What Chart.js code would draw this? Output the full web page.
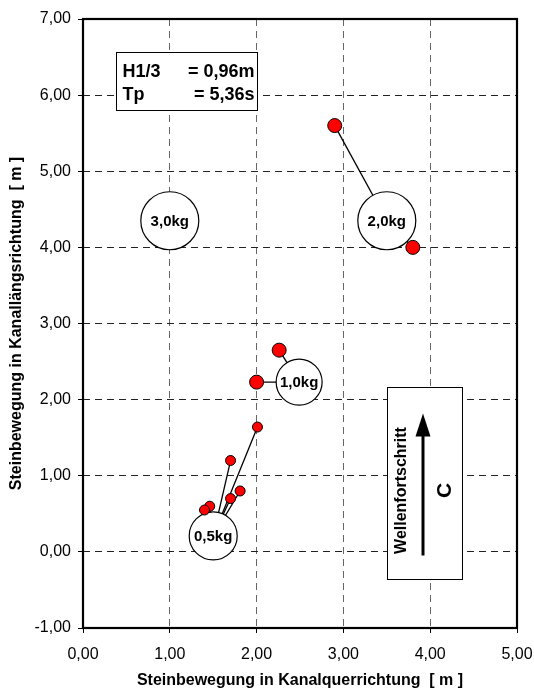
<!DOCTYPE html>
<html><head><meta charset="utf-8">
<script src="https://cdn.jsdelivr.net/npm/chart.js@4/dist/chart.umd.min.js"></script>
<style>html,body{margin:0;padding:0;background:#fff;}#wrap{width:534px;height:691px;}</style>
</head><body><div id="wrap"><canvas id="c" width="534" height="691"></canvas></div>
<script>
// ---- data ----
const stoneLabels = ['0,5kg', '1,0kg', '2,0kg', '3,0kg'];
const stoneCenterX = [1.50, 2.49, 3.50, 1.00];
const stoneCenterY = [0.21, 2.23, 4.35, 4.35];
const stone05X = [2.01, 1.70, 1.81, 1.70, 1.46, 1.40];
const stone05Y = [1.64, 1.20, 0.80, 0.70, 0.60, 0.55];
const stone10X = [2.00, 2.26];
const stone10Y = [2.23, 2.65];
const stone20X = [2.90, 3.80];
const stone20Y = [5.60, 4.00];
const stone30X = [];
const stone30Y = [];
const xTicks = [0, 1, 2, 3, 4, 5];
const yTicks = [-1, 0, 1, 2, 3, 4, 5, 6, 7];
const infoNames = ['H1/3', 'Tp'];
const infoValues = ['= 0,96m', '= 5,36s'];
const waveLabel = 'Wellenfortschritt';
const waveSymbol = 'C';
const xTitle = 'Steinbewegung in Kanalquerrichtung  [ m ]';
const yTitle = 'Steinbewegung in Kanallängsrichtung  [ m ]';

// ---- styles / layout ----
const FONT = '"Liberation Sans", Arial, sans-serif';
const circleRadius = [24, 23, 29, 29];
const groupsX = [stone05X, stone10X, stone20X, stone30X];
const groupsY = [stone05Y, stone10Y, stone20Y, stone30Y];
const pointRadius = [5, 7, 7, 7];

const fmt = v => Number(v).toFixed(2).replace('.', ',');

const datasets = [];
// connector lines (bottom layer)
groupsX.forEach((gx, g) => {
  gx.forEach((x, i) => {
    datasets.push({
      type: 'scatter', showLine: true, order: 3,
      data: [{x: x, y: groupsY[g][i]}, {x: stoneCenterX[g], y: stoneCenterY[g]}],
      borderColor: '#000', borderWidth: 1.3, pointRadius: 0, fill: false
    });
  });
});
// stone circles
datasets.push({
  type: 'scatter', order: 2,
  data: stoneCenterX.map((x, i) => ({x: x, y: stoneCenterY[i]})),
  pointRadius: circleRadius, pointBackgroundColor: '#fff', pointBorderColor: '#000', pointBorderWidth: 1.2
});
// red end points (top layer)
groupsX.forEach((gx, g) => {
  datasets.push({
    type: 'scatter', order: 1,
    data: gx.map((x, i) => ({x: x, y: groupsY[g][i]})),
    pointRadius: pointRadius[g], pointBackgroundColor: '#ff0000', pointBorderColor: '#000', pointBorderWidth: 1
  });
});

const annotations = {
  id: 'annotations',
  afterDatasetsDraw(chart) {
    const ctx = chart.ctx, xs = chart.scales.x, ys = chart.scales.y;
    ctx.save();
    // stone labels
    ctx.fillStyle = '#000';
    ctx.font = 'bold 15px ' + FONT;
    ctx.textAlign = 'center'; ctx.textBaseline = 'middle';
    stoneLabels.forEach((t, i) => {
      ctx.fillText(t, xs.getPixelForValue(stoneCenterX[i]), ys.getPixelForValue(stoneCenterY[i]) + 1);
    });
    // info box
    const bl = Math.round(xs.getPixelForValue(0.377)) + 0.5, br = Math.round(xs.getPixelForValue(2.0)) + 0.5;
    const bt = Math.round(ys.getPixelForValue(6.565)) + 0.5, bb = Math.round(ys.getPixelForValue(5.81)) + 0.5;
    ctx.fillStyle = '#fff'; ctx.fillRect(bl, bt, br - bl, bb - bt);
    ctx.strokeStyle = '#000'; ctx.lineWidth = 1; ctx.strokeRect(bl, bt, br - bl, bb - bt);
    ctx.fillStyle = '#000';
    ctx.font = 'bold 18px ' + FONT;
    ctx.textBaseline = 'alphabetic';
    infoNames.forEach((t, i) => {
      ctx.textAlign = 'left';
      ctx.fillText(t, bl + 6, bt + 24.5 + i * 23.3);
      ctx.textAlign = 'right';
      ctx.fillText(infoValues[i], br - 3, bt + 24.5 + i * 23.3);
    });
    // wave box
    const wl = Math.round(xs.getPixelForValue(3.50)) + 0.5, wr = Math.round(xs.getPixelForValue(4.37)) + 0.5;
    const wt = Math.round(ys.getPixelForValue(2.16)) + 0.5, wb = Math.round(ys.getPixelForValue(-0.355)) + 0.5;
    ctx.fillStyle = '#fff'; ctx.fillRect(wl, wt, wr - wl, wb - wt);
    ctx.strokeStyle = '#000'; ctx.lineWidth = 1; ctx.strokeRect(wl, wt, wr - wl, wb - wt);
    // arrow
    const ax = wl + 35.5;
    ctx.strokeStyle = '#000'; ctx.lineWidth = 3;
    ctx.beginPath(); ctx.moveTo(ax, wt + 46); ctx.lineTo(ax, wt + 168); ctx.stroke();
    ctx.fillStyle = '#000';
    ctx.beginPath(); ctx.moveTo(ax, wt + 26); ctx.lineTo(ax - 7.5, wt + 49); ctx.lineTo(ax + 7.5, wt + 49); ctx.closePath(); ctx.fill();
    // rotated texts
    ctx.save();
    ctx.translate(wl + 14, wt + 103); ctx.rotate(-Math.PI / 2);
    ctx.font = 'bold 16px ' + FONT; ctx.textAlign = 'center'; ctx.textBaseline = 'middle';
    ctx.fillText(waveLabel, 0, 0);
    ctx.restore();
    ctx.save();
    ctx.translate(wl + 58, wt + 103); ctx.rotate(-Math.PI / 2);
    ctx.font = 'bold 21px ' + FONT; ctx.textAlign = 'center'; ctx.textBaseline = 'middle';
    ctx.fillText(waveSymbol, 0, 0);
    ctx.restore();
    ctx.restore();
  },
  afterDraw(chart) {
    const ctx = chart.ctx, a = chart.chartArea;
    ctx.save();
    ctx.strokeStyle = '#000'; ctx.lineWidth = 2.2;
    ctx.strokeRect(a.left, a.top, a.right - a.left, a.bottom - a.top);
    ctx.restore();
  }
};

const zeroPad = s => { s.paddingTop = 0; s.paddingBottom = 0; s.paddingLeft = 0; s.paddingRight = 0; };

new Chart(document.getElementById('c'), {
  type: 'scatter',
  data: {datasets: datasets},
  plugins: [annotations],
  options: {
    responsive: false, animation: false, devicePixelRatio: 1, events: [],
    layout: {autoPadding: false, padding: {left: 0, top: 19, right: 17, bottom: 0}},
    plugins: {legend: {display: false}, tooltip: {enabled: false}, title: {display: false}},
    scales: {
      x: {
        type: 'linear', min: 0, max: 5,
        afterBuildTicks: s => { s.ticks = xTicks.map(v => ({value: v})); },
        afterFit: s => { s.height = 63; zeroPad(s); },
        border: {display: false, dash: [7, 5]},
        grid: {color: '#666', lineWidth: 1, tickLength: 5, tickColor: '#000', tickBorderDash: [], drawTicks: true},
        ticks: {color: '#000', font: {family: FONT, size: 16}, padding: 12, callback: v => fmt(v), maxRotation: 0},
        title: {display: true, text: xTitle, color: '#000', font: {family: FONT, size: 16, weight: 'bold'}, padding: {top: 0, bottom: 1}}
      },
      y: {
        type: 'linear', min: -1, max: 7,
        afterBuildTicks: s => { s.ticks = yTicks.map(v => ({value: v})); },
        afterFit: s => { s.width = 83; zeroPad(s); },
        border: {display: false, dash: [7, 5]},
        grid: {color: '#222', lineWidth: 1, tickLength: 5, tickColor: '#000', tickBorderDash: [], drawTicks: true},
        ticks: {color: '#000', font: {family: FONT, size: 16}, padding: 7, callback: v => fmt(v)},
        title: {display: true, text: yTitle, color: '#000', font: {family: FONT, size: 16, weight: 'bold'}, padding: {top: 7, bottom: 0}}
      }
    }
  }
});
</script>
</body></html>
